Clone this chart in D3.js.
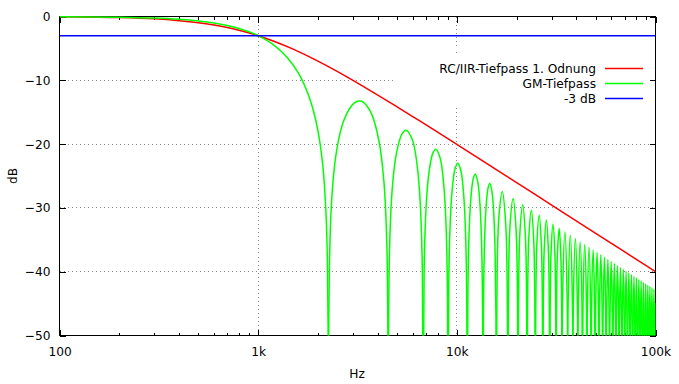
<!DOCTYPE html>
<html>
<head>
<meta charset="utf-8">
<script src="https://cdn.jsdelivr.net/npm/d3@7"></script>
<style>
    body { margin: 0; background: #fff; }
    text { font-family: 'DejaVu Sans', sans-serif; font-size: 12.2px; fill: #000; }
</style>
</head>
<body>
<div id="chart"></div>
<script>
// Axis ticks
const freqTicks = [100, 1000, 10000, 100000];
const freqLabels = ["100", "1k", "10k", "100k"];
const dbTicks = [0, -10, -20, -30, -40, -50];

// Legend
const seriesNames = ["RC/IIR-Tiefpass 1. Odnung", "GM-Tiefpass", "-3 dB"];
const seriesColors = ["#ff0000", "#00ff00", "#0000ff"];

// RC lowpass [Hz, dB]
const rcLowpass = [
    [100, -0.04], [150, -0.10], [200, -0.17], [300, -0.37], [400, -0.65], [500, -0.97],
    [600, -1.34], [700, -1.73], [800, -2.15], [900, -2.58], [1000, -3.01], [1200, -3.87],
    [1500, -5.12], [2000, -6.99], [3000, -10.0], [5000, -14.15], [7000, -16.99],
    [10000, -20.04], [20000, -26.03], [30000, -29.55], [50000, -33.98], [100000, -40.0]
];

// -3 dB reference line
const minus3dB = [[100, -3], [100000, -3]];

// Moving average (GM) lowpass, main lobe [Hz, dB]
const gmMainLobe = [
    [100, -0.03], [200, -0.11], [300, -0.25], [400, -0.45], [500, -0.71], [600, -1.03],
    [700, -1.42], [800, -1.87], [900, -2.40], [1000, -3.01], [1200, -4.50], [1400, -6.43],
    [1600, -8.97], [1800, -12.49], [1900, -14.85], [2000, -17.94], [2100, -22.47],
    [2150, -25.99], [2200, -31.58], [2230, -38.0], [2250, -49.0], [2258, -80]
];

// GM lowpass side lobes, each from notch to notch [Hz, dB]
const gmSideLobes = [
    [[2258, -80], [2326, -30.73], [2484, -20.97], [2710, -16.14], [3048, -13.55], [3229, -13.26], [3387, -13.47], [3726, -15.30], [4064, -19.67], [4290, -25.72], [4448, -36.36], [4516, -80]],
    [[4516, -80], [4584, -36.62], [4742, -26.59], [4968, -21.41], [5306, -18.37], [5555, -17.83], [5984, -19.41], [6322, -23.50], [6548, -29.39], [6706, -39.93], [6774, -80]],
    [[6774, -80], [6842, -40.10], [7000, -29.97], [7226, -24.66], [7564, -21.45], [7835, -20.79], [8242, -22.19], [8580, -26.16], [8806, -31.96], [8964, -42.45], [9032, -80]],
    [[9032, -80], [9100, -42.58], [9258, -32.40], [9484, -27.02], [9822, -23.72], [10116, -22.99], [10500, -24.29], [10838, -28.18], [11064, -33.95], [11222, -44.40], [11290, -80]],
    [[11290, -80], [11358, -44.50], [11516, -34.29], [11742, -28.88], [12080, -25.51], [12374, -24.74], [12758, -25.99], [13096, -29.83], [13322, -35.56], [13480, -45.99], [13548, -80]],
    [[13548, -80], [13616, -46.08], [13774, -35.85], [14000, -30.41], [14338, -27.00], [14632, -26.19], [15016, -27.40], [15354, -31.21], [15580, -36.92], [15738, -47.34], [15806, -80]],
    [[15806, -80], [15919, -43.02], [16258, -31.71], [16935, -27.44], [17612, -32.40], [17951, -44.06], [18064, -80]],
    [[18064, -80], [18177, -44.17], [18516, -32.84], [19193, -28.53], [19870, -33.45], [20209, -45.09], [20322, -80]],
    [[20322, -80], [20435, -45.19], [20774, -33.84], [21451, -29.50], [22128, -34.38], [22467, -46.01], [22580, -80]],
    [[22580, -80], [22693, -46.10], [23032, -34.73], [23709, -30.37], [24386, -35.23], [24725, -46.84], [24838, -80]],
    [[24838, -80], [24951, -46.92], [25290, -35.54], [25967, -31.16], [26644, -36.00], [26983, -47.60], [27096, -80]],
    [[27096, -80], [27209, -47.68], [27548, -36.29], [28225, -31.88], [28902, -36.70], [29241, -48.30], [29354, -80]],
    [[29354, -80], [29467, -48.37], [29806, -36.97], [30483, -32.55], [31160, -37.36], [31499, -48.95], [31612, -80]],
    [[31612, -80], [31725, -49.01], [32064, -37.61], [32741, -33.17], [33418, -37.96], [33757, -49.55], [33870, -80]],
    [[33870, -80], [34096, -43.72], [34999, -33.75], [35902, -44.17], [36128, -80]],
    [[36128, -80], [36354, -44.28], [37257, -34.29], [38160, -44.70], [38386, -80]],
    [[38386, -80], [38612, -44.80], [39515, -34.80], [40418, -45.20], [40644, -80]],
    [[40644, -80], [40870, -45.30], [41773, -35.29], [42676, -45.67], [42902, -80]],
    [[42902, -80], [43128, -45.76], [44031, -35.74], [44934, -46.12], [45160, -80]],
    [[45160, -80], [45386, -46.21], [46289, -36.18], [47192, -46.55], [47418, -80]],
    [[47418, -80], [47644, -46.63], [48547, -36.59], [49450, -46.95], [49676, -80]],
    [[49676, -80], [49902, -47.03], [50805, -36.99], [51708, -47.34], [51934, -80]],
    [[51934, -80], [52160, -47.42], [53063, -37.36], [53966, -47.71], [54192, -80]],
    [[54192, -80], [54418, -47.78], [55321, -37.73], [56224, -48.07], [56450, -80]],
    [[56450, -80], [56676, -48.14], [57579, -38.07], [58482, -48.41], [58708, -80]],
    [[58708, -80], [58934, -48.48], [59837, -38.41], [60740, -48.74], [60966, -80]],
    [[60966, -80], [61192, -48.80], [62095, -38.73], [62998, -49.06], [63224, -80]],
    [[63224, -80], [63450, -49.12], [64353, -39.04], [65256, -49.36], [65482, -80]],
    [[65482, -80], [65708, -49.42], [66611, -39.34], [67514, -49.66], [67740, -80]],
    [[67740, -80], [67966, -49.71], [68869, -39.63], [69772, -49.94], [69998, -80]],
    [[69998, -80], [70224, -50.00], [71127, -39.91], [72030, -50.22], [72256, -80]],
    [[72256, -80], [72482, -50.27], [73385, -40.18], [74288, -50.49], [74514, -80]],
    [[74514, -80], [74740, -50.54], [75643, -40.44], [76546, -50.75], [76772, -80]],
    [[76772, -80], [76998, -50.80], [77901, -40.70], [78804, -51.00], [79030, -80]],
    [[79030, -80], [79256, -51.05], [80159, -40.95], [81062, -51.25], [81288, -80]],
    [[81288, -80], [81514, -51.29], [82417, -41.19], [83320, -51.48], [83546, -80]],
    [[83546, -80], [83772, -51.53], [84675, -41.42], [85578, -51.72], [85804, -80]],
    [[85804, -80], [86030, -51.76], [86933, -41.65], [87836, -51.94], [88062, -80]],
    [[88062, -80], [88288, -51.99], [89191, -41.88], [90094, -52.16], [90320, -80]],
    [[90320, -80], [90546, -52.21], [91449, -42.09], [92352, -52.38], [92578, -80]],
    [[92578, -80], [92804, -52.42], [93707, -42.30], [94610, -52.59], [94836, -80]],
    [[94836, -80], [95062, -52.63], [95965, -42.51], [96868, -52.79], [97094, -80]],
    [[97094, -80], [97320, -52.83], [98223, -42.71], [99126, -52.99], [99352, -80]],
    [[99352, -80], [99578, -53.03], [100000, -44.92]]
];

class FilterChart {
    constructor(element) {
        this.element = element;
        this.initVis();
    }

    initVis() {
        const vis = this;

        vis.margin = { top: 16.5, right: 23.5, bottom: 48.5, left: 59.5 };
        vis.width = 679 - vis.margin.left - vis.margin.right;
        vis.height = 384 - vis.margin.top - vis.margin.bottom;

        const root = d3.select("#" + vis.element).append("svg")
            .attr("width", 679)
            .attr("height", 384);

        vis.svg = root.append("g")
            .attr("transform", `translate(${vis.margin.left},${vis.margin.top})`);

        // Scales
        vis.x = d3.scaleLog()
            .domain([100, 100000])
            .range([0, vis.width]);

        vis.y = d3.scaleLinear()
            .domain([-50, 0])
            .range([vis.height, 0]);

        // Clip for the curves
        vis.svg.append("clipPath")
            .attr("id", "plot-clip")
            .append("rect")
            .attr("x", 0)
            .attr("y", -3)
            .attr("width", vis.width)
            .attr("height", vis.height + 3);

        // Grid lines
        const grid = vis.svg.append("g")
            .attr("stroke", "#888")
            .attr("stroke-dasharray", "1,3")
            .attr("shape-rendering", "crispEdges");

        grid.selectAll(".vgrid")
            .data(freqTicks.slice(1, -1))
            .join("line")
            .attr("x1", d => vis.x(d))
            .attr("x2", d => vis.x(d))
            .attr("y1", 0)
            .attr("y2", vis.height);

        grid.selectAll(".hgrid")
            .data(dbTicks.slice(1, -1))
            .join("line")
            .attr("x1", 0)
            .attr("x2", vis.width)
            .attr("y1", d => vis.y(d))
            .attr("y2", d => vis.y(d));

        // Opaque legend box
        vis.svg.append("rect")
            .attr("x", 395 - vis.margin.left)
            .attr("y", 55 - vis.margin.top)
            .attr("width", 255)
            .attr("height", 51)
            .attr("fill", "#fff");

        // Frame
        vis.svg.append("rect")
            .attr("width", vis.width)
            .attr("height", vis.height)
            .attr("fill", "none")
            .attr("stroke", "#000")
            .attr("shape-rendering", "crispEdges");

        // Axes
        const minorTicks = vis.x.ticks().filter(d => !freqTicks.includes(d));

        vis.svg.append("g")
            .attr("transform", `translate(0,${vis.height})`)
            .call(d3.axisBottom(vis.x).tickValues(freqTicks)
                .tickFormat((d, i) => freqLabels[i]).tickSize(-6).tickPadding(12));

        vis.svg.append("g")
            .attr("transform", `translate(0,${vis.height})`)
            .call(d3.axisBottom(vis.x).tickValues(minorTicks).tickFormat("").tickSize(-3));

        vis.svg.append("g")
            .call(d3.axisTop(vis.x).tickValues(freqTicks).tickFormat("").tickSize(-6));

        vis.svg.append("g")
            .call(d3.axisTop(vis.x).tickValues(minorTicks).tickFormat("").tickSize(-3));

        vis.svg.append("g")
            .call(d3.axisLeft(vis.y).tickValues(dbTicks).tickSize(-6).tickPadding(9));

        vis.svg.append("g")
            .attr("transform", `translate(${vis.width},0)`)
            .call(d3.axisRight(vis.y).tickValues(dbTicks).tickFormat("").tickSize(-6));

        vis.svg.selectAll(".domain").remove();
        vis.svg.selectAll(".tick line")
            .attr("stroke", "#000")
            .attr("shape-rendering", "crispEdges");
        vis.svg.selectAll(".tick text")
            .style("font-family", "'DejaVu Sans', sans-serif")
            .style("font-size", "12.2px")
            .attr("fill", "#000");

        // Axis labels
        root.append("text")
            .attr("x", 357)
            .attr("y", 378)
            .attr("text-anchor", "middle")
            .text("Hz");

        root.append("text")
            .attr("transform", "translate(17,176) rotate(-90)")
            .attr("text-anchor", "middle")
            .text("dB");

        // Curves
        const line = d3.line()
            .x(d => vis.x(d[0]))
            .y(d => vis.y(d[1]))
            .curve(d3.curveCatmullRom);

        const plot = vis.svg.append("g")
            .attr("clip-path", "url(#plot-clip)")
            .attr("fill", "none")
            .attr("stroke-width", 1.5);

        plot.append("path")
            .datum(rcLowpass)
            .attr("stroke", seriesColors[0])
            .attr("d", line);

        plot.selectAll(".gm-lobe")
            .data([gmMainLobe, ...gmSideLobes])
            .join("path")
            .attr("class", "gm-lobe")
            .attr("stroke", seriesColors[1])
            .attr("d", line);

        plot.append("path")
            .datum(minus3dB)
            .attr("stroke", seriesColors[2])
            .attr("d", line.curve(d3.curveLinear));

        // Legend
        const legend = root.append("g")
            .selectAll("g")
            .data(seriesNames)
            .join("g")
            .attr("transform", (d, i) => `translate(0,${68.5 + i * 15})`);

        legend.append("text")
            .attr("x", 596)
            .attr("dy", "0.36em")
            .attr("text-anchor", "end")
            .text(d => d);

        legend.append("line")
            .attr("x1", 605)
            .attr("x2", 643)
            .attr("stroke", (d, i) => seriesColors[i])
            .attr("stroke-width", 1.5);
    }
}

new FilterChart("chart");
</script>
</body>
</html>
